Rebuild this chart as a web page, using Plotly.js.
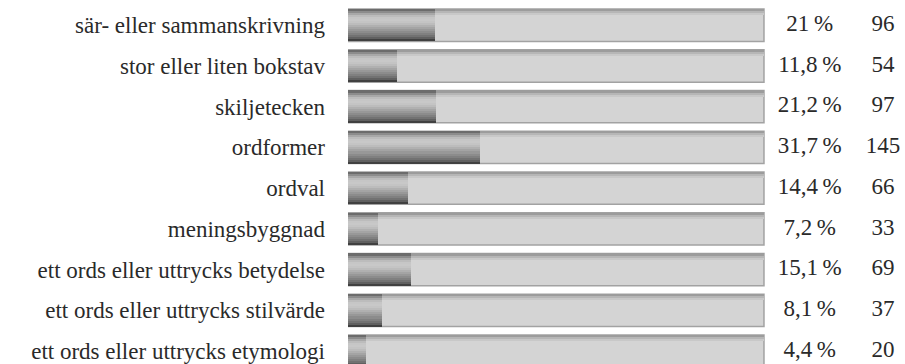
<!DOCTYPE html>
<html><head><meta charset="utf-8">
<script src="https://cdn.plot.ly/plotly-3.0.1.min.js"></script>
<style>html,body{margin:0;padding:0;background:#fff}#chart{width:905px;height:364px}</style>
</head><body><div id="chart"></div>
<script>
const categories = [
  "sär- eller sammanskrivning",
  "stor eller liten bokstav",
  "skiljetecken",
  "ordformer",
  "ordval",
  "meningsbyggnad",
  "ett ords eller uttrycks betydelse",
  "ett ords eller uttrycks stilvärde",
  "ett ords eller uttrycks etymologi"
];
const percents = [21, 11.8, 21.2, 31.7, 14.4, 7.2, 15.1, 8.1, 4.4];
const counts = [96, 54, 97, 145, 66, 33, 69, 37, 20];
const totalPct = 100;

const FONT = "'Liberation Serif', 'DejaVu Serif', serif";
const FS = 23;
const barH = 0.795;
const traces = [];

// background (100 %) bar
const full = categories.map(() => totalPct);
traces.push({type:'bar', orientation:'h', y:categories, x:full, width:barH, offset:-barH/2,
  marker:{color:'#d4d4d4', line:{color:'#a2a2a2', width:1.5}}, hoverinfo:'skip'});
// top shade of background bar
const bgBands = ['#9c9c9c','#b6b6b6','#c8c8c8'];
bgBands.forEach((c,i)=>{
  const h = barH/16;
  traces.push({type:'bar', orientation:'h', y:categories, x:full, width:h, offset:-barH/2 + i*h,
    marker:{color:c, line:{width:0}}, hoverinfo:'skip'});
});

// gradient value bar built from horizontal bands
const grad = ['#6c6c6c','#8c8c8c','#a8a8a8','#bcbcbc','#c6c6c6','#c8c8c8','#c4c4c4','#bcbcbc',
              '#b0b0b0','#a4a4a4','#989898','#8c8c8c','#808080','#727272','#606060','#404040'];
const n = grad.length;
grad.forEach((c,i)=>{
  const h = barH/n;
  traces.push({type:'bar', orientation:'h', y:categories, x:percents, width:h*1.05, offset:-barH/2 + i*h,
    marker:{color:c, line:{width:0}}, hoverinfo:'skip'});
});

// percent and count labels
const pctText = percents.map(v => String(v).replace('.', ',') + '\u2009%');
traces.push({type:'scatter', mode:'text', y:categories, x:categories.map(()=>111),
  text:pctText, textposition:'middle center',
  textfont:{family:FONT, size:FS, color:'#2a2a2a'}, hoverinfo:'skip'});
traces.push({type:'scatter', mode:'text', y:categories, x:categories.map(()=>128.6),
  text:counts.map(String), textposition:'middle center',
  textfont:{family:FONT, size:FS, color:'#2a2a2a'}, hoverinfo:'skip'});

const layout = {
  width:905, height:364,
  margin:{l:348, r:0, t:0, b:0},
  paper_bgcolor:'#fff', plot_bgcolor:'#fff',
  barmode:'overlay', bargap:0, showlegend:false,
  font:{family:FONT, size:FS, color:'#2a2a2a'},
  xaxis:{range:[0,133.9], showgrid:false, zeroline:false, showticklabels:false, ticks:'', showline:false, fixedrange:true},
  yaxis:{type:'category', range:[8.315, -0.618], showgrid:false, zeroline:false, ticks:'', showline:false,
    ticklabelstandoff:22, tickfont:{family:FONT, size:FS, color:'#2a2a2a'}, fixedrange:true}
};
Plotly.newPlot('chart', traces, layout, {staticPlot:true, displayModeBar:false});
</script></body></html>
